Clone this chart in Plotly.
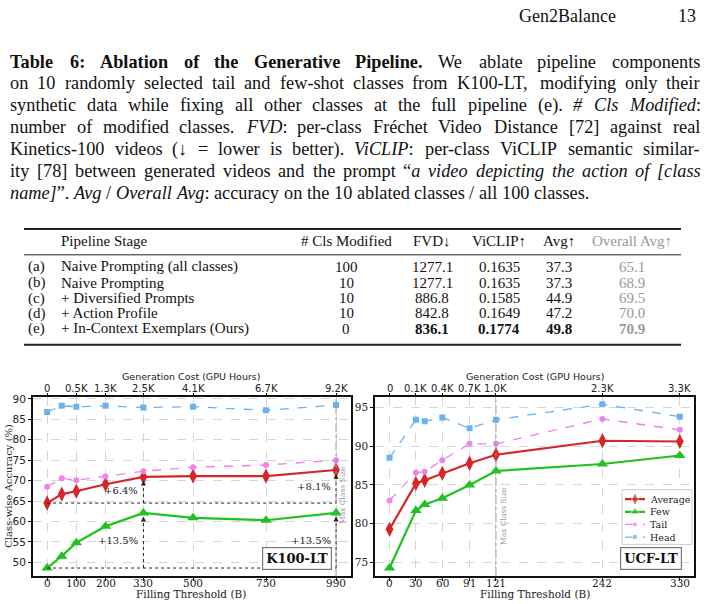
import re
import plotly.graph_objects as go

# ---- data ----
k100_threshold = [0, 50, 100, 200, 330, 500, 750, 990]
k100_cost_ticks = [0, 100, 200, 330, 500, 750, 990]
k100_cost_labels = ['0', '0.5K', '1.3K', '2.5K', '4.1K', '6.7K', '9.2K']
k100_average = [64.5, 66.7, 67.4, 69.1, 70.9, 71.1, 71.1, 72.6]
k100_few = [48.6, 51.5, 54.8, 58.8, 62.1, 60.9, 60.3, 62.1]
k100_tail = [68.5, 70.6, 70.1, 71.0, 72.3, 73.3, 73.8, 75.0]
k100_head = [86.8, 88.3, 88.1, 88.3, 87.9, 88.1, 87.2, 88.5]

ucf_threshold = [0, 30, 40, 60, 91, 121, 242, 330]
ucf_cost_ticks = [0, 30, 60, 91, 121, 242, 330]
ucf_cost_labels = ['0', '0.1K', '0.4K', '0.7K', '1.0K', '2.3K', '3.3K']
ucf_average = [79.3, 85.2, 85.6, 86.5, 87.8, 88.9, 90.7, 90.6]
ucf_few = [74.3, 81.7, 82.5, 83.3, 85.0, 86.8, 87.7, 88.8]
ucf_tail = [83.0, 86.6, 86.7, 88.2, 90.3, 90.3, 93.5, 92.1]
ucf_head = [88.5, 93.4, 93.2, 93.7, 92.3, 93.4, 95.4, 93.8]

stage_ids = ['(a)', '(b)', '(c)', '(d)', '(e)']
stages = ['Naive Prompting (all classes)', 'Naive Prompting', '+ Diversified Prompts',
          '+ Action Profile', '+ In-Context Exemplars (Ours)']
cls_modified = ['100', '10', '10', '10', '0']
fvd = ['1277.1', '1277.1', '886.8', '842.8', '836.1']
viclip = ['0.1635', '0.1635', '0.1585', '0.1649', '0.1774']
avg = ['37.3', '37.3', '44.9', '47.2', '49.8']
overall_avg = ['65.1', '68.9', '69.5', '70.0', '70.9']

caption_lines = [
    '<b>Table 6: Ablation of the Generative Pipeline.</b> We ablate pipeline components',
    'on 10 randomly selected tail and few-shot classes from K100-LT, modifying only their',
    'synthetic data while fixing all other classes at the full pipeline (e). <i># Cls Modified</i>:',
    'number of modified classes. <i>FVD</i>: per-class Fréchet Video Distance [72] against real',
    'Kinetics-100 videos (↓ = lower is better). <i>ViCLIP</i>: per-class ViCLIP semantic similar-',
    'ity [78] between generated videos and the prompt “<i>a video depicting the action of [class</i>',
    '<i>name]</i>”. <i>Avg</i> / <i>Overall Avg</i>: accuracy on the 10 ablated classes / all 100 classes.',
]

W, H = 704, 604
SERIF = 'Liberation Serif'
PLOT_SERIF = 'DejaVu Serif'
colors = {'Average': '#d62728', 'Few': '#1fc21f', 'Tail': '#ee82ee', 'Head': '#6cb2f0'}

# approximate Times glyph widths (Liberation Serif is metric compatible), per 1000 em
LOWER = {
    'r': [444, 500, 444, 500, 444, 333, 500, 500, 278, 278, 500, 278, 778, 500, 500, 500, 500, 333, 389, 278, 500, 500, 722, 500, 500, 444],
    'b': [500, 556, 444, 556, 444, 333, 500, 556, 278, 333, 556, 278, 833, 556, 500, 556, 556, 444, 389, 333, 556, 500, 722, 500, 500, 444],
    'i': [500, 500, 444, 500, 444, 278, 500, 500, 278, 278, 444, 278, 722, 500, 500, 500, 500, 389, 389, 278, 500, 444, 667, 444, 444, 389],
}
UPPER = {
    'r': [722, 667, 667, 722, 611, 556, 722, 722, 333, 389, 722, 611, 889, 722, 722, 556, 722, 667, 556, 611, 722, 722, 944, 722, 722, 611],
    'b': [722, 667, 722, 722, 667, 611, 778, 778, 389, 500, 778, 667, 944, 722, 778, 611, 778, 722, 556, 667, 722, 722, 1000, 722, 722, 667],
    'i': [611, 611, 667, 722, 611, 611, 722, 722, 333, 444, 667, 556, 833, 667, 722, 611, 722, 611, 500, 556, 722, 611, 833, 611, 556, 556],
}
PUNCT = {' ': 250, '.': 250, ',': 250, ':': 278, ';': 278, '(': 333, ')': 333, '[': 333, ']': 333,
         '-': 333, '/': 278, '#': 500, '%': 833, '“': 444, '”': 444, '↓': 500, '=': 564, '+': 564,
         'é': 444}


def char_w(ch, style):
    if 'a' <= ch <= 'z':
        return LOWER[style][ord(ch) - 97]
    if 'A' <= ch <= 'Z':
        return UPPER[style][ord(ch) - 65]
    if ch.isdigit():
        return 500
    w = PUNCT.get(ch, 500)
    return w + 55 if (style == 'b' and ch in ':[]') else w


def split_words(line):
    words = [[]]
    bold = ital = False
    for tok in re.split(r'(</?[bi]>)', line):
        if tok in ('<b>', '</b>'):
            bold = tok == '<b>'
        elif tok in ('<i>', '</i>'):
            ital = tok == '<i>'
        else:
            for k, part in enumerate(tok.split(' ')):
                if k > 0:
                    words.append([])
                if part:
                    words[-1].append((part, bold, ital))
    return [w for w in words if w]


def word_html(word):
    out = ''
    for txt, b, i in word:
        if i:
            txt = f'<i>{txt}</i>'
        if b:
            txt = f'<b>{txt}</b>'
        out += txt
    return out


def word_width(word, size):
    total = 0
    for txt, b, i in word:
        style = 'b' if b else ('i' if i else 'r')
        total += sum(char_w(c, style) for c in txt)
    return total * size / 1000


def px(x):
    return x / W


def py(y):
    return 1 - y / H


def text(x, y, s, font, xanchor='center', **kw):
    return dict(x=px(x), y=py(y), xref='paper', yref='paper', text=s, showarrow=False,
                xanchor=xanchor, yanchor='middle', font=font, **kw)


fig = go.Figure()

series = [
    ('Average', k100_average, ucf_average, 'diamond-tall', 11, 2.2, 'solid'),
    ('Few', k100_few, ucf_few, 'triangle-up', 10, 2.2, 'solid'),
    ('Tail', k100_tail, ucf_tail, 'circle', 6, 1.3, 'dash'),
    ('Head', k100_head, ucf_head, 'square', 6, 1.3, 'dash'),
]
for name, k_vals, u_vals, sym, size, lw, dash in series:
    style = dict(line=dict(color=colors[name], width=lw, dash=dash),
                 marker=dict(symbol=sym, size=size, color=colors[name]))
    fig.add_trace(go.Scatter(x=k100_threshold, y=k_vals, mode='lines+markers', name=name,
                             showlegend=False, xaxis='x', yaxis='y', **style))
    fig.add_trace(go.Scatter(x=ucf_threshold, y=u_vals, mode='lines+markers', name=name,
                             showlegend=False, xaxis='x2', yaxis='y2', **style))

# invisible traces so the top (cost) axes get drawn
fig.add_trace(go.Scatter(x=k100_cost_ticks, y=k100_average[:1] * 7, mode='markers',
                         marker=dict(opacity=0), showlegend=False, hoverinfo='skip',
                         xaxis='x3', yaxis='y'))
fig.add_trace(go.Scatter(x=ucf_cost_ticks, y=ucf_average[:1] * 7, mode='markers',
                         marker=dict(opacity=0), showlegend=False, hoverinfo='skip',
                         xaxis='x4', yaxis='y2'))

shapes = []
annotations = []

# ---- compact legend drawn in its own small pixel-scaled subplot ----
leg_x0, leg_x1, leg_y0, leg_y1 = 620, 694, 486, 548
shapes.append(dict(type='rect', xref='x5', yref='y5', x0=622, x1=692, y0=489, y1=544,
                   fillcolor='white', line=dict(color='#cccccc', width=1), layer='below'))
for k, (name, _, _, sym, size, lw, dash) in enumerate(series):
    yy = 498.5 + 12.7 * k
    fig.add_trace(go.Scatter(x=[625, 635, 645], y=[yy] * 3, mode='lines+markers', showlegend=False,
                             hoverinfo='skip', xaxis='x5', yaxis='y5',
                             line=dict(color=colors[name], width=lw, dash=dash),
                             marker=dict(symbol=sym, size=[0, size * 0.85, 0], color=colors[name])))
    annotations.append(text(648, yy, name, dict(family=PLOT_SERIF, size=9.5, color='#222'), xanchor='left'))

# ---- tick labels placed tight to the axes, as in the reference ----
tick_font = dict(family=PLOT_SERIF, size=10.5, color='#222')
top_font = dict(family='DejaVu Sans', size=10, color='#222')
for xref, ticks, cost in (('x', k100_cost_ticks, k100_cost_labels), ('x2', ucf_cost_ticks, ucf_cost_labels)):
    for t, c in zip(ticks, cost):
        annotations.append(dict(x=t, y=py(583), xref=xref, yref='paper', text=str(t), showarrow=False,
                                xanchor='center', yanchor='middle', font=tick_font))
        annotations.append(dict(x=t, y=py(387.5), xref=xref, yref='paper', text=c, showarrow=False,
                                xanchor='center', yanchor='middle', font=top_font))

# ---- arrows & gains on K100-LT ----
base_avg, base_few = k100_average[0], k100_few[0]
for base in (base_avg, base_few):
    shapes.append(dict(type='line', xref='x', yref='y', x0=0, x1=k100_threshold[-1],
                       y0=base, y1=base, line=dict(color='#222', width=1, dash='dot')))

for idx in (4, 7):
    xv = k100_threshold[idx]
    for base, top in ((base_avg, k100_average[idx]), (base_few, k100_few[idx])):
        tip = top - 0.9
        shapes.append(dict(type='line', xref='x', yref='y', x0=xv, x1=xv, y0=base, y1=tip - 0.8,
                           line=dict(color='#222', width=1, dash='dot')))
        annotations.append(dict(x=xv, y=tip, ax=xv, ay=tip - 1.2, xref='x', yref='y',
                                axref='x', ayref='y', text='', showarrow=True,
                                arrowhead=2, arrowsize=1, arrowwidth=1, arrowcolor='#222'))
        annotations.append(dict(x=xv, y=(base + top) / 2, xref='x', yref='y',
                                text=f'+{top - base:.1f}%', showarrow=False, xanchor='right',
                                yanchor='middle', xshift=-3,
                                font=dict(family=PLOT_SERIF, size=10, color='#222')))

# max class size lines
for xref, yref, xv, yv in [('x', 'y', k100_threshold[-1], 66.5), ('x2', 'y2', ucf_threshold[5], 81.0)]:
    shapes.append(dict(type='line', xref=xref, yref=yref + ' domain', x0=xv, x1=xv, y0=0, y1=1,
                       line=dict(color='#9a9a9a', width=1, dash='dashdot')))
    annotations.append(dict(x=xv, y=yv, xref=xref, yref=yref, text='Max Class Size',
                            textangle=-90, showarrow=False, xshift=7, xanchor='center', yanchor='middle',
                            font=dict(family=PLOT_SERIF, size=7.5, color='#9a9a9a')))

# dataset labels
for label, x0 in [('K100-LT', 297), ('UCF-LT', 651)]:
    annotations.append(text(x0, 558, f'<b>{label}</b>', dict(family=PLOT_SERIF, size=13, color='#111'),
                            bgcolor='white', bordercolor='#777', borderwidth=1.2, borderpad=3))

# axis titles
for xc in (191, 535):
    annotations.append(text(xc, 594, 'Filling Threshold (B)', dict(family=PLOT_SERIF, size=10.5, color='#222')))
    annotations.append(text(xc, 375, 'Generation Cost (GPU Hours)', dict(family='DejaVu Sans', size=9.5, color='#222')))
annotations.append(text(9, 485, 'Class-wise Accuracy (%)', dict(family=PLOT_SERIF, size=10, color='#222'),
                        textangle=-90))

# ---- page text ----
head_font = dict(family=SERIF, size=18, color='#111')
annotations.append(text(618, 12, 'Gen2Balance', head_font, xanchor='right'))
annotations.append(text(698, 12, '13', head_font, xanchor='right'))

cap_size = 18.3
cap_font = dict(family=SERIF, size=cap_size, color='#111')
left, right = 8, 698
for li, line in enumerate(caption_lines):
    words = split_words(line)
    widths = [word_width(w, cap_size) for w in words]
    if li < len(caption_lines) - 1:
        gap = (right - left - sum(widths)) / (len(words) - 1)
    else:
        gap = 250 * cap_size / 1000
    xcur = left
    for w, wd in zip(words, widths):
        annotations.append(text(xcur, 58 + 22 * li, word_html(w), cap_font, xanchor='left'))
        xcur += wd + gap

# ---- table ----
tfont = dict(family=SERIF, size=15, color='#111')
gray_font = dict(family=SERIF, size=15, color='#999')
col_centers = [346, 432, 499, 559, 632]
headers = ['# Cls Modified', 'FVD↓', 'ViCLIP↑', 'Avg↑', 'Overall Avg↑']
annotations.append(text(59, 238.5, 'Pipeline Stage', tfont, xanchor='left'))
for j, (hdr, xc) in enumerate(zip(headers, col_centers)):
    annotations.append(text(xc, 238.5, hdr, gray_font if j == 4 else tfont))
row_y = [264.5, 280.5, 296, 311.5, 327]
for i in range(len(stages)):
    annotations.append(text(26, row_y[i], stage_ids[i], tfont, xanchor='left'))
    annotations.append(text(59, row_y[i], stages[i], tfont, xanchor='left'))
    vals = [cls_modified[i], fvd[i], viclip[i], avg[i], overall_avg[i]]
    for j, (v, xc) in enumerate(zip(vals, col_centers)):
        txt = f'<b>{v}</b>' if (i == len(stages) - 1 and j > 0) else v
        annotations.append(text(xc, row_y[i], txt, gray_font if j == 4 else tfont))
for yy, lw in [(226.5, 2), (252.5, 1), (343, 2)]:
    shapes.append(dict(type='line', xref='paper', yref='paper', x0=px(24), x1=px(681),
                       y0=py(yy), y1=py(yy), line=dict(color='#222', width=lw)))

# ---- axes ----
box = dict(showline=True, linecolor='#111', linewidth=1.5, mirror=True, ticks='outside', ticklen=3,
           tickcolor='#111', showgrid=True, gridcolor='#d6d6d6', griddash='dash', gridwidth=0.8,
           zeroline=False)
top_axis = dict(side='top', ticks='outside', ticklen=3, tickcolor='#111', showgrid=False, zeroline=False,
                showline=False, showticklabels=False)
ydom = [py(576), py(395.5)]
fig.update_layout(
    width=W, height=H,
    margin=dict(l=0, r=0, t=0, b=0),
    paper_bgcolor='white', plot_bgcolor='white',
    showlegend=False,
    xaxis=dict(domain=[px(32.7), px(350.5)], anchor='y', range=[-49.5, 1039.5],
               tickvals=k100_cost_ticks, showticklabels=False, **box),
    yaxis=dict(domain=ydom, anchor='x', range=[46.6, 90.5], dtick=5,
               tickfont=dict(family='DejaVu Sans', size=10.5, color='#222'), **box),
    xaxis3=dict(overlaying='x', anchor='y', range=[-49.5, 1039.5], tickvals=k100_cost_ticks, **top_axis),
    xaxis2=dict(domain=[px(375), px(694.3)], anchor='y2', range=[-16.5, 346.5],
                tickvals=ucf_cost_ticks, showticklabels=False, **box),
    yaxis2=dict(domain=ydom, anchor='x2', range=[73.25, 96.35], dtick=5,
                tickfont=dict(family=PLOT_SERIF, size=10.5, color='#222'), **box),
    xaxis4=dict(overlaying='x2', anchor='y2', range=[-16.5, 346.5], tickvals=ucf_cost_ticks, **top_axis),
    xaxis5=dict(domain=[px(leg_x0), px(leg_x1)], anchor='y5', range=[leg_x0, leg_x1], visible=False),
    yaxis5=dict(domain=[py(leg_y1), py(leg_y0)], anchor='x5', range=[leg_y1, leg_y0], visible=False),
    shapes=shapes,
    annotations=annotations,
)

fig.write_html("out.html", config={'displayModeBar': False},
               post_script="document.body.style.margin='0px';")
